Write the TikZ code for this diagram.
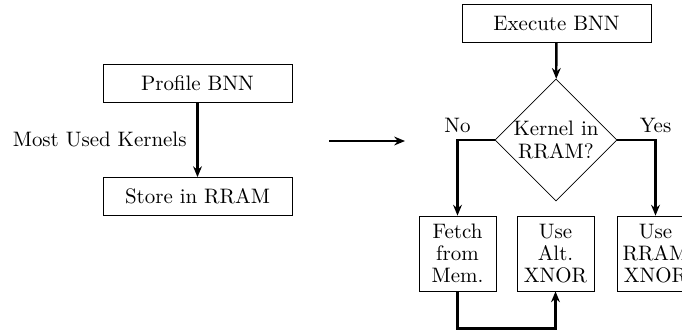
\documentclass[tikz,border=0pt]{standalone}
\usetikzlibrary{shapes.geometric,arrows.meta}
\begin{document}
\begin{tikzpicture}[x=0.511pt,y=-0.511pt,
  every node/.style={font=\fontsize{10.7pt}{11.3pt}\selectfont},
  box/.style={draw, rectangle, minimum width=189*0.511pt, minimum height=38*0.511pt, inner sep=0pt},
  sbox/.style={draw, rectangle, minimum width=77*0.511pt, minimum height=75*0.511pt, inner sep=0pt, align=center},
  dia/.style={draw, diamond, aspect=1, minimum width=120*0.511pt, minimum height=120*0.511pt, inner sep=0pt, align=center},
  arr/.style={line width=1.2pt, -{Stealth[length=5.5pt,width=4.5pt]}}]
\clip (0,0) rectangle (682,333);
\useasboundingbox (0,0) rectangle (682,333);
\node[box] (profile) at (197.5,83) {Profile BNN};
\node[box] (store) at (197.5,196.5) {Store in RRAM};
\node[box] (execute) at (556.5,23) {Execute BNN};
\node[dia] (kernel) at (556,140) {Kernel in\\RRAM?};
\node[sbox] (fetch) at (457.5,253.5) {Fetch\\from\\Mem.};
\node[sbox] (alt) at (555.5,253.5) {Use\\Alt.\\XNOR};
\node[sbox] (rram) at (655.5,253.5) {Use\\RRAM\\XNOR};
\coordinate (a1) at (329,141);
\coordinate (a2) at (405,141);
\draw[arr] (profile) -- node[left, inner sep=5pt] {Most Used Kernels} (store);
\draw[arr] (a1) -- (a2);
\draw[arr] (execute) -- (kernel);
\draw[arr] (kernel.west) -| node[pos=0.5, above] {No} (fetch.north);
\draw[arr] (kernel.east) -| node[pos=0.5, above] {Yes} (rram.north);
\draw[arr] (fetch.south) -- ++(0,37) -| (alt.south);
\end{tikzpicture}
\end{document}
